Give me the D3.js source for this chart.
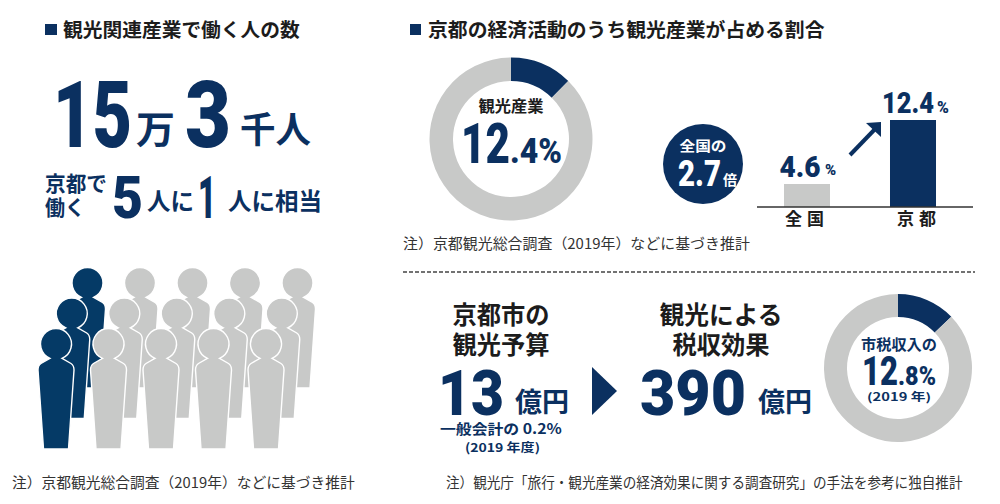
<!DOCTYPE html>
<html lang="ja">
<head>
<meta charset="utf-8">
<script src="https://cdnjs.cloudflare.com/ajax/libs/d3/7.8.5/d3.min.js"></script>
<style>
body{margin:0;background:#fff;}
text{font-family:"Noto Sans CJK JP","Noto Sans",sans-serif;}
.num{font-family:Roboto,"Liberation Sans",sans-serif;}
</style>
</head>
<body>
<script>
// values
var shareCategories = ["全国","京都"];
var shareValues = [4.6,12.4];
var shareUnit = "%";
var tourismShare = [12.4,87.6];
var taxShare = [12.8,87.2];
var peopleColumns = [0,1,2,3,4];
var peopleRows = [2,1,0];          // back row first so the front row overlaps it
var highlightColumns = [0];
var workers = ["15","万","3","千人"];
var ratio = ["5","人に","1","人に相当"];
var budget = ["13","億円"];
var effect = ["390","億円"];

var navy = "#0b3060";
var personNavy = "#053a66";
var grey = "#c8c9c8";
var ink = "#1c1c1c";

var width = 1000, height = 504;

var svg = d3.select("body").append("svg")
            .attr("width",width).attr("height",height)
            .style("display","block");

// squeeze a text to the width it has in the picture
function fitWidth(t,x,y,len){
    var sx = len/t.node().getComputedTextLength();
    t.attr("x",0).attr("y",0)
     .attr("transform","translate("+x+","+y+") scale("+sx+",1)");
}

function label(str,x,y,size,o){
    o = o || {};
    var t = svg.append("text")
            .attr("x",x).attr("y",y)
            .attr("font-size",size)
            .attr("font-weight",o.cls=="num" ? 900 : (o.weight||700))
            .attr("fill",o.fill||navy)
            .attr("text-anchor",o.anchor||"start")
            .text(str);
    if(o.cls) t.attr("class",o.cls);
    if(o.len) fitWidth(t,x,y,o.len);
    return t;
}

// section titles
svg.append("rect").attr("x",45).attr("y",24).attr("width",12).attr("height",11).attr("fill",navy);
label("観光関連産業で働く人の数",63,37,19,{fill:ink,len:237});
svg.append("rect").attr("x",410).attr("y",24).attr("width",11).attr("height",11).attr("fill",navy);
label("京都の経済活動のうち観光産業が占める割合",428,37,19,{fill:ink,len:397});

// left headline
label(workers[0],53,147,92,{cls:"num",len:79});
label(workers[1],136,143,38,{len:39});
label(workers[2],185,147,92,{cls:"num",len:46});
label(workers[3],240,143,36,{len:71});
label("京都で",45,191,21,{len:62});
label("働く",45,215,21,{len:40});
label(ratio[0],112,218,60,{cls:"num",len:31});
label(ratio[1],147,210,24,{len:47});
label(ratio[2],198,218,60,{cls:"num",len:18});
label(ratio[3],228,210,24,{len:94});

// people, one in five highlighted
var colX = d3.scaleLinear().domain([0,4]).range([56,266]);
var rowX = d3.scaleLinear().domain([0,2]).range([0,31.5]);
var rowY = d3.scaleLinear().domain([0,2]).range([344,283]);
var personPath = "M-6,14.3 A15.5,15.5 0 1 1 6,14.3 L15,19.5 Q18,21.5 18,26 L12.5,105 L-12.5,105 L-18,26 Q-18,21.5 -15,19.5 Z";

var peopleData = [];
peopleRows.forEach(function(r){
    peopleColumns.forEach(function(c){
        peopleData.push({row:r,col:c});
    });
});

svg.append("g").selectAll("path")
    .data(peopleData)
    .enter().append("path")
    .attr("d",personPath)
    .attr("transform",function(d){return "translate("+(colX(d.col)+rowX(d.row))+","+rowY(d.row)+")";})
    .attr("fill",function(d){return highlightColumns.indexOf(d.col)>=0 ? personNavy : grey;})
    .attr("stroke","#fff")
    .attr("stroke-width",1.4);

label("注）京都観光総合調査（2019年）などに基づき推計",12,488,14.5,{fill:"#333",weight:400,len:343});

// donuts
function donut(values,cx,cy,r,inner){
    var pie = d3.pie().sort(null);
    var arc = d3.arc().innerRadius(inner).outerRadius(r);
    svg.append("g")
        .attr("transform","translate("+cx+","+cy+")")
        .selectAll("path")
        .data(pie(values))
        .enter().append("path")
        .attr("d",arc)
        .attr("fill",function(d,i){return i==0 ? navy : grey;});
}

donut(tourismShare,511,139,81.5,58);
label("観光産業",511,112,16,{fill:ink,anchor:"middle",len:65});
label("12",461,163,56,{cls:"num",len:49});
label(".4%",510,163,36,{cls:"num",len:52});

// 2.7x badge
svg.append("circle").attr("cx",703).attr("cy",164).attr("r",40).attr("fill",navy);
label("全国の",703,151,14,{fill:"#fff",anchor:"middle",len:47});
label("2.7",678,186,36,{fill:"#fff",cls:"num",len:43});
label("倍",723,185,14,{fill:"#fff"});

// bars, the picture's own heights are not zero based
var x = d3.scaleBand().domain(shareCategories)
            .range([754,966]).paddingInner(0.566).paddingOuter(0.283);
var y = d3.scaleLinear().domain([1.8,12.4]).range([207,120]);

svg.append("g").selectAll("rect")
    .data(shareValues)
    .enter().append("rect")
    .attr("x",function(d,i){return x(shareCategories[i]);})
    .attr("y",function(d){return y(d);})
    .attr("width",x.bandwidth())
    .attr("height",function(d){return y.range()[0]-y(d);})
    .attr("fill",function(d,i){return i==0 ? grey : navy;});

var xAxis = d3.axisBottom(x).tickSize(0).tickPadding(6);
var axisG = svg.append("g").attr("transform","translate(0,207)").call(xAxis);
axisG.select(".domain").remove();
axisG.selectAll("text")
    .attr("font-size",17).attr("font-weight",700).attr("fill",ink)
    .attr("font-family",'"Noto Sans CJK JP"')
    .attr("dx",function(d,i){return i==0 ? 0 : 6;})
    .style("letter-spacing","5px");
svg.append("line").attr("x1",757).attr("x2",973).attr("y1",207).attr("y2",207)
    .attr("stroke","#333").attr("stroke-width",1.5);

svg.append("g").selectAll("text")
    .data(shareValues)
    .enter().append("text")
    .attr("class","num")
    .attr("text-anchor","middle")
    .attr("font-size",29)
    .attr("font-weight",900)
    .attr("fill",navy)
    .text(function(d){return d;})
    .each(function(d,i){
        var cx = x(shareCategories[i])+x.bandwidth()/2-(i==0?7:5);
        fitWidth(d3.select(this),cx,y(d)-7,i==0 ? 41 : 52);
    });
label(shareUnit,825,175,15,{cls:"num"});
label(shareUnit,937,113,16,{cls:"num"});

// arrow between the bars
svg.append("path").attr("d","M850,155 L878,126").attr("stroke",navy).attr("stroke-width",4).attr("fill","none");
svg.append("path").attr("d","M866,123 L881,122 L881,137 Z").attr("fill",navy);

label("注）京都観光総合調査（2019年）などに基づき推計",403,249,14.5,{fill:"#333",weight:400,len:347});

// divider
svg.append("line").attr("x1",403).attr("x2",975).attr("y1",272).attr("y2",272)
    .attr("stroke","#444").attr("stroke-width",1.5).attr("stroke-dasharray","4 2");

// budget block
label("京都市の",501,324,24.5,{fill:ink,anchor:"middle",len:97});
label("観光予算",501,354,24.5,{fill:ink,anchor:"middle",len:97});
label(budget[0],438,415,63,{cls:"num",len:66});
label(budget[1],515,412,27,{len:54});
label("一般会計の 0.2%",440,434,14,{len:122});
label("(2019 年度)",465,452,12,{len:75});

svg.append("path").attr("d","M592,367 L617,391 L592,415 Z").attr("fill",navy);

label("観光による",721,324,24.5,{fill:ink,anchor:"middle",len:123});
label("税収効果",721,354,24.5,{fill:ink,anchor:"middle",len:97});
label(effect[0],640,415,63,{cls:"num",len:106});
label(effect[1],758,412,27,{len:54});

donut(taxShare,898,368,74,51);
label("市税収入の",899,350,15,{anchor:"middle",len:76});
label("12",862,385,40,{cls:"num",len:36});
label(".8%",898,385,26,{cls:"num",len:38});
label("(2019 年)",899,401,11,{anchor:"middle",len:64});

label("注）観光庁「旅行・観光産業の経済効果に関する調査研究」の手法を参考に独自推計",446,488,14.5,{fill:"#333",weight:400,len:517});
</script>
</body>
</html>
